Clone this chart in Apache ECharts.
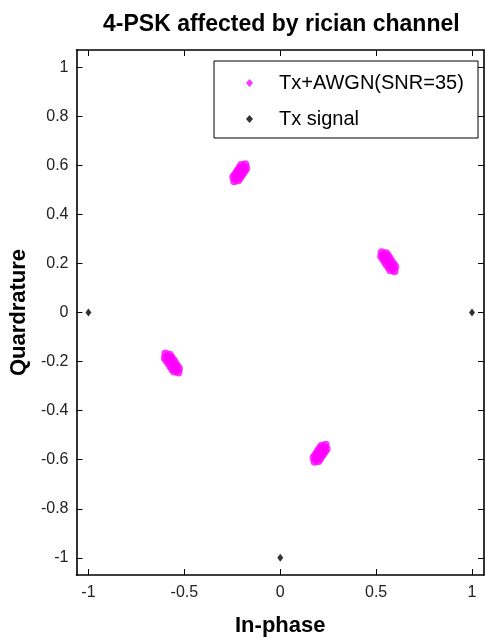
<!DOCTYPE html>
<html><head><meta charset="utf-8">
<script src="https://cdn.jsdelivr.net/npm/echarts@6/dist/echarts.min.js"></script>
<style>html,body{margin:0;padding:0;background:#fff}#c{width:485px;height:643px}</style>
</head><body><div id="c"></div>
<script>
// --- data ---
var xTicks = [-1, -0.5, 0, 0.5, 1];
var yTicks = [-1, -0.8, -0.6, -0.4, -0.2, 0, 0.2, 0.4, 0.6, 0.8, 1];
var txSignal = [[-1, 0], [1, 0], [0, -1], [0, 1]];
var clusterA = [ // near 110 deg
  [-0.240,0.535],[-0.232,0.545],[-0.223,0.555],[-0.215,0.565],[-0.207,0.574],[-0.198,0.584],[-0.190,0.594],[-0.182,0.604],
  [-0.219,0.539],[-0.210,0.549],[-0.202,0.559],[-0.194,0.568],[-0.185,0.578],[-0.177,0.588],
  [-0.245,0.552],[-0.236,0.562],[-0.228,0.572],[-0.220,0.580],[-0.211,0.591],[-0.203,0.601]
];
var clusterB = [ // near 20 deg
  [0.596,0.168],[0.587,0.179],[0.577,0.190],[0.568,0.201],[0.558,0.213],[0.548,0.224],[0.539,0.235],[0.529,0.246],
  [0.574,0.172],[0.565,0.184],[0.555,0.195],[0.545,0.207],[0.536,0.218],[0.526,0.229],
  [0.600,0.186],[0.591,0.197],[0.581,0.208],[0.571,0.220],[0.562,0.231],[0.552,0.242]
];
var clusterC = [ // near 200 deg
  [-0.599,-0.167],[-0.589,-0.178],[-0.580,-0.189],[-0.570,-0.200],[-0.560,-0.212],[-0.551,-0.223],[-0.541,-0.234],[-0.531,-0.245],
  [-0.576,-0.172],[-0.567,-0.183],[-0.557,-0.194],[-0.547,-0.206],[-0.538,-0.217],[-0.528,-0.228],
  [-0.602,-0.185],[-0.593,-0.196],[-0.583,-0.207],[-0.573,-0.219],[-0.564,-0.230],[-0.554,-0.241]
];
var clusterD = [ // near 290 deg
  [0.237,-0.539],[0.229,-0.549],[0.220,-0.559],[0.212,-0.569],[0.204,-0.578],[0.195,-0.588],[0.187,-0.598],[0.179,-0.608],
  [0.216,-0.543],[0.207,-0.553],[0.199,-0.563],[0.191,-0.572],[0.182,-0.582],[0.174,-0.592],
  [0.242,-0.556],[0.233,-0.566],[0.225,-0.576],[0.217,-0.584],[0.208,-0.595],[0.200,-0.605]
];
var noisy = clusterA.concat(clusterB, clusterC, clusterD);
var seriesNames = ['Tx+AWGN(SNR=35)', 'Tx signal'];
var titleText = '4-PSK affected by rician channel';
var xName = 'In-phase', yName = 'Quardrature';

var FONT = '"Liberation Sans", Arial, sans-serif';
var lineSty = {color: '#000', width: 1.6};
function fmt(v){ return String(Math.round(v*10)/10); }
var chart = echarts.init(document.getElementById('c'), null, {renderer: 'canvas'});
chart.setOption({
  animation: false,
  backgroundColor: '#fff',
  title: {text: titleText, left: 98, top: 8,
    textStyle: {fontFamily: FONT, fontWeight: 'bold', fontSize: 23, color: '#000'}},
  grid: {left: 76, top: 50, right: 1, bottom: 68},
  xAxis: [{
    type: 'value', min: -1.0625, max: 1.0625, position: 'bottom',
    name: xName, nameLocation: 'middle', nameGap: 40,
    nameTextStyle: {fontFamily: FONT, fontWeight: 'bold', fontSize: 22, color: '#000'},
    axisLine: {show: true, onZero: false, lineStyle: lineSty},
    axisTick: {show: true, inside: true, length: 6, customValues: xTicks, lineStyle: {color: '#000'}},
    axisLabel: {show: true, customValues: xTicks, formatter: fmt, margin: 10,
      fontFamily: FONT, fontSize: 16, color: '#222'},
    splitLine: {show: false}
  }, {
    type: 'value', min: -1.0625, max: 1.0625, position: 'top',
    axisLine: {show: true, onZero: false, lineStyle: lineSty},
    axisTick: {show: true, inside: true, length: 6, customValues: xTicks, lineStyle: {color: '#000'}},
    axisLabel: {show: false}, splitLine: {show: false}
  }],
  yAxis: [{
    type: 'value', min: -1.07, max: 1.07, position: 'left',
    name: yName, nameLocation: 'middle', nameGap: 46, nameRotate: 90,
    nameTextStyle: {fontFamily: FONT, fontWeight: 'bold', fontSize: 22, color: '#000'},
    axisLine: {show: true, onZero: false, lineStyle: lineSty},
    axisTick: {show: true, inside: true, length: 6, customValues: yTicks, lineStyle: {color: '#000'}},
    axisLabel: {show: true, customValues: yTicks, formatter: fmt, margin: 8,
      fontFamily: FONT, fontSize: 16, color: '#222'},
    splitLine: {show: false}
  }, {
    type: 'value', min: -1.07, max: 1.07, position: 'right',
    axisLine: {show: true, onZero: false, lineStyle: lineSty},
    axisTick: {show: true, inside: true, length: 6, customValues: yTicks, lineStyle: {color: '#000'}},
    axisLabel: {show: false}, splitLine: {show: false}
  }],
  legend: {
    orient: 'vertical', left: 246, top: 73, padding: 0, itemGap: 16,
    itemWidth: 7, itemHeight: 8, z: 12,
    textStyle: {fontFamily: FONT, fontSize: 20, color: '#000', lineHeight: 20, padding: [0, 0, 0, 21]},
    data: [{name: seriesNames[0], icon: 'diamond'}, {name: seriesNames[1], icon: 'diamond'}]
  },
  graphic: [{
    type: 'rect', z: 10, shape: {x: 214, y: 61, width: 264, height: 77},
    style: {fill: '#fff', stroke: '#000', lineWidth: 1}
  }],
  series: [{
    name: seriesNames[0], type: 'scatter', data: noisy, symbol: 'circle', symbolSize: 8,
    itemStyle: {color: '#ff00ff'}, z: 2
  }, {
    name: seriesNames[1], type: 'scatter', data: txSignal, symbol: 'diamond', symbolSize: [6, 8],
    itemStyle: {color: '#000'}, z: 3
  }]
});
</script></body></html>
